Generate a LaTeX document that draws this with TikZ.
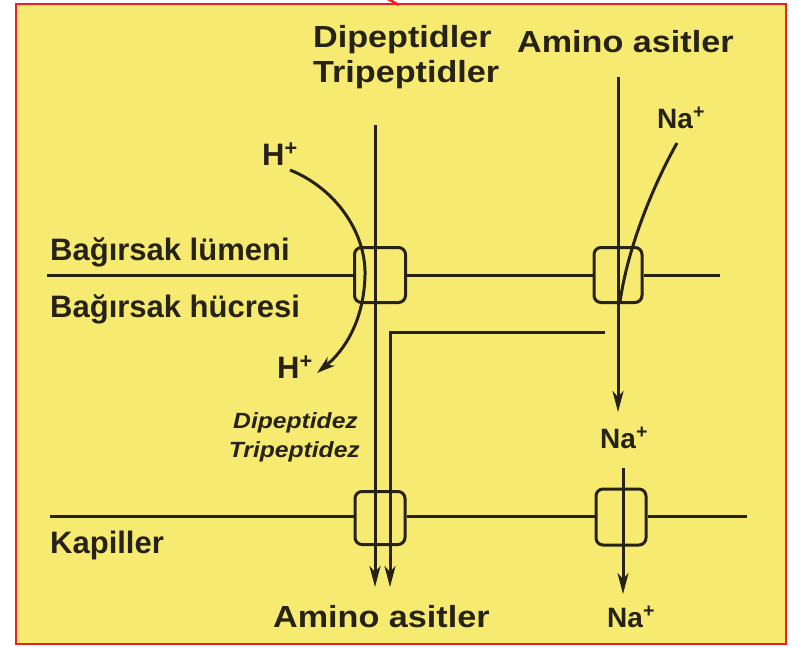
\documentclass[tikz,border=0pt]{standalone}
\usepackage{fontspec}
\setmainfont{Liberation Sans}
\newfontfamily\topf[FakeStretch=1.12]{Liberation Sans}
\newfontfamily\leftf{Liberation Sans}
\usetikzlibrary{arrows.meta}
\definecolor{ink}{RGB}{38,34,22}
\definecolor{paper}{RGB}{246,235,112}
\definecolor{frame}{RGB}{236,32,36}
\begin{document}
\begin{tikzpicture}[x=1pt,y=-1pt,
  ln/.style={draw=ink, line width=3pt},
  arr/.style={-{Stealth[length=21pt,width=11pt,inset=6pt]}},
  tbox/.style={draw=ink, line width=3pt, rounded corners=7pt, inner sep=0pt},
  toplbl/.style={inner sep=0pt, text=ink, font=\topf\bfseries\fontsize{30.5}{36}\selectfont},
  leftlbl/.style={inner sep=0pt, text=ink, font=\leftf\bfseries\fontsize{31}{36}\selectfont},
  ionlbl/.style={inner sep=0pt, text=ink, font=\leftf\bfseries\fontsize{28}{32}\selectfont},
  enzlbl/.style={inner sep=0pt, text=ink, font=\topf\bfseries\itshape\fontsize{22}{26}\selectfont}]
\useasboundingbox (0,0) rectangle (797,646);
\fill[white] (0,0) rectangle (797,646);
\filldraw[fill=paper, draw=frame, line width=2pt] (16,4) rectangle (786,644);
\draw[frame, line width=2.5pt] (386,-2) -- (399,5);

% transporter boxes
\node[tbox, minimum width=51pt, minimum height=55pt] (b1) at (380,275) {};
\node[tbox, minimum width=48pt, minimum height=55pt] (b2) at (618,275) {};
\node[tbox, minimum width=50pt, minimum height=53pt] (b3) at (380,518) {};
\node[tbox, minimum width=50pt, minimum height=56pt] (b4) at (621,517) {};

% membranes
\coordinate (m1l) at (47,275);
\coordinate (m1r) at (720,275);
\draw[ln] (m1l) -- (b1.west);
\draw[ln] (b1.east) -- (b2.west);
\draw[ln] (b2.east) -- (m1r);
\coordinate (m2l) at (50,516);
\coordinate (m2r) at (747,516);
\draw[ln] (m2l) -- (b3.west |- m2l);
\draw[ln] (b3.east |- m2l) -- (b4.west |- m2l);
\draw[ln] (b4.east |- m2l) -- (m2r);

% labels
\node[toplbl, anchor=base west] (dip) at (313,47) {Dipeptidler};
\node[toplbl, anchor=base west] (trip) at (313,82) {Tripeptidler};
\node[toplbl, anchor=base west] (aatop) at (517,52) {Amino asitler};
\node[ionlbl, anchor=base west] (na1) at (657,128) {Na\textsuperscript{+}};
\node[leftlbl, anchor=base west] (h1) at (262,165) {H\textsuperscript{+}};
\node[leftlbl, anchor=base west] (lum) at (50,260) {Bağırsak lümeni};
\node[leftlbl, anchor=base west] (huc) at (50,317) {Bağırsak hücresi};
\node[leftlbl, anchor=base west] (h2) at (277,378) {H\textsuperscript{+}};
\node[enzlbl, anchor=base east] (dz) at (358,428) {Dipeptidez};
\node[enzlbl, anchor=base east] (tz) at (360,457) {Tripeptidez};
\node[leftlbl, anchor=base west] (kap) at (50,553) {Kapiller};
\node[toplbl, anchor=base west] (aabot) at (273,627) {Amino asitler};
\node[ionlbl, anchor=base west] (na2) at (600,448) {Na\textsuperscript{+}};
\node[ionlbl, anchor=base west] (na3) at (607,627) {Na\textsuperscript{+}};

% peptide paths
\coordinate (p1s) at (375,125);
\coordinate (p1e) at (375,587);
\draw[ln, arr] (p1s) -- (p1e);
\coordinate (p2s) at (605,332);
\coordinate (p2c) at (390,332);
\coordinate (p2e) at (390,587);
\draw[ln, arr] (p2s) -- (p2c) -- (p2e);

% amino acid + Na path
\coordinate (aas) at (618,77);
\coordinate (aae) at (618,412);
\draw[ln, arr] (aas) -- (aae);
\coordinate (nas) at (677,143);
\draw[ln] (nas) .. controls (655,182) and (628,245) .. (620,302);
\coordinate (n2s) at (623,468);
\coordinate (n2e) at (623,594);
\draw[ln, arr] (n2s) -- (n2e);

% H+ path
\coordinate (hs) at (290,170);
\coordinate (hm) at (365,275);
\coordinate (he) at (317,373);
\draw[ln, -{Stealth[length=18pt,width=11pt,inset=5pt]}] (hs) .. controls (335,188) and (366,232) .. (hm) .. controls (364,320) and (345,350) .. (he);
\end{tikzpicture}
\end{document}
